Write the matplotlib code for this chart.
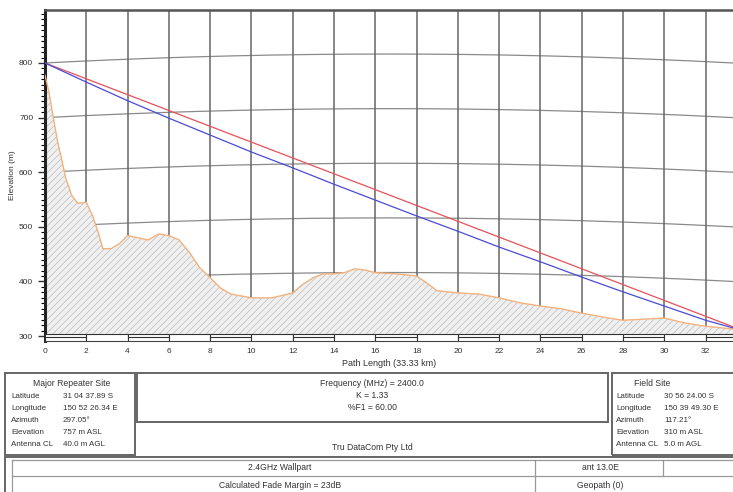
import numpy as np
import matplotlib.pyplot as plt
from matplotlib.patches import Rectangle

plt.rcParams['font.family'] = ['Liberation Sans', 'DejaVu Sans']
plt.rcParams['hatch.linewidth'] = 0.5

# path profile data (km, m)
path_km = 33.33
k_factor = 1.33
terrain_km = [0, 0.2, 0.4, 0.6, 0.8, 1.0, 1.3, 1.6, 2.0, 2.3, 2.6, 2.8, 3.2, 3.6, 4.0,
              4.5, 5.0, 5.5, 6.0, 6.5, 7.0, 7.5, 8.0, 8.5, 9.0, 10.0, 11.0, 12.0, 12.5,
              13.0, 13.5, 14.0, 14.5, 15.0, 15.5, 16.0, 17.0, 18.0, 18.5, 19.0, 20.0,
              21.0, 22.0, 23.0, 24.0, 25.0, 26.0, 27.0, 28.0, 29.0, 30.0, 31.0, 32.0, 33.33]
terrain_m = [778, 745, 700, 658, 625, 590, 557, 543, 545, 521, 487, 460, 460, 469, 484,
             480, 476, 487, 484, 476, 453, 425, 407, 388, 377, 370, 370, 379, 395,
             407, 414, 414, 416, 423, 421, 416, 414, 410, 397, 383, 379,
             377, 370, 361, 355, 350, 342, 335, 329, 331, 333, 324, 318, 313]

los_km = [0, 33.33]
los_m = [800, 317]

fresnel_km = [0, 2, 4, 6, 8, 10, 12, 14, 16, 18, 20, 22, 24, 26, 28, 30, 32, 33.33]
fresnel_m = [800, 765, 731, 699, 668, 637, 608, 578, 549, 520, 492, 463, 436, 408, 381, 355, 329, 315]

grid_levels = [300, 400, 500, 600, 700, 800, 900]

W, H = 733, 492
fig = plt.figure(figsize=(W / 100, H / 100), dpi=100)


def fx(p):
    return p / W


def fy(p):
    return 1 - p / H


ax = fig.add_axes([fx(45), fy(341), fx(733) - fx(45), fy(10) - fy(341)])
ax.set_xlim(0, path_km)
ax.set_ylim(291, 897)

# curved (earth bulge) grid
xs = np.linspace(0, path_km, 200)
bulge = xs * (path_km - xs) / (12.74 * k_factor)
for lv in grid_levels:
    ax.plot(xs, lv + bulge, color='#8a8a8a', lw=0.9, zorder=1)
for xv in range(2, 34, 2):
    ax.axvline(xv, color='#666666', lw=1.1, zorder=1)

ax.fill_between(terrain_km, terrain_m, 291, facecolor='#f0f0f0', edgecolor='#bdbdbd',
                hatch='/////', lw=0, zorder=2)
ax.plot(terrain_km, terrain_m, color='#f2b27e', lw=1.0, zorder=3)
ax.plot(los_km, los_m, color='#e8505a', lw=0.9, zorder=4)
ax.plot(fresnel_km, fresnel_m, color='#4a4ad8', lw=0.9, zorder=4)

# scale bar along the bottom
for i in range(0, 17):
    x0 = i * 2
    ax.add_patch(Rectangle((x0, 0), 2, 0.022, transform=ax.get_xaxis_transform(),
                           facecolor='white', edgecolor='#333333', lw=0.8, zorder=5))
    if i % 2 == 0:
        ax.plot([x0, x0 + 2], [0.011, 0.011], transform=ax.get_xaxis_transform(),
                color='#333333', lw=0.8, zorder=6)

ax.set_xticks(range(0, 34, 2))
ax.set_xticks(np.arange(0, 33.5, 0.5), minor=True)
ax.set_yticks(range(300, 900, 100))
ax.set_yticks(range(300, 900, 10), minor=True)
ax.tick_params(axis='x', direction='in', length=10, width=0.8, labelsize=6,
               pad=5, colors='#333333')
ax.tick_params(axis='x', which='minor', direction='in', length=9, width=0.6, colors='#444444')
ax.tick_params(axis='y', direction='out', length=5, width=1.0, labelsize=6,
               colors='#333333')
ax.tick_params(axis='y', which='minor', direction='out', length=3, width=0.8)
ax.spines['left'].set_linewidth(2.2)
ax.spines['left'].set_color('#222222')
ax.spines['top'].set_linewidth(1.8)
ax.spines['top'].set_color('#555555')
ax.spines['right'].set_visible(False)
ax.spines['bottom'].set_color('#444444')
ax.set_xlabel('Path Length (33.33 km)', fontsize=6.5, color='#333333', labelpad=3)
ax.set_ylabel('Elevation (m)', fontsize=6, color='#333333', labelpad=2)

# info boxes below the chart
txt = dict(fontsize=6.2, color='#333333')
row = dict(fontsize=5.8, color='#333333')


def box(x0, y0, x1, y1):
    fig.patches.append(Rectangle((fx(x0), fy(y1)), fx(x1) - fx(x0), fy(y0) - fy(y1),
                                 transform=fig.transFigure, facecolor='none',
                                 edgecolor='#666666', lw=1.4))


def line(x0, y0, x1, y1):
    fig.add_artist(plt.Line2D([fx(x0), fx(x1)], [fy(y0), fy(y1)], transform=fig.transFigure,
                              color='#999999', lw=0.9))


def site(xl, xv, xt, title, rows):
    fig.text(fx(xt), fy(384), title, ha='center', va='center', **txt)
    for i, (lab, val) in enumerate(rows):
        fig.text(fx(xl), fy(397 + 12 * i), lab, ha='left', va='center', **row)
        fig.text(fx(xv), fy(397 + 12 * i), val, ha='left', va='center', **row)


box(5, 373, 135, 455)
site(11, 63, 72, 'Major Repeater Site',
     [('Latitude', '31 04 37.89 S'), ('Longitude', '150 52 26.34 E'),
      ('Azimuth', '297.05°'), ('Elevation', '757 m ASL'), ('Antenna CL', '40.0 m AGL')])

box(612, 373, 740, 455)
site(616, 664, 652, 'Field Site',
     [('Latitude', '30 56 24.00 S'), ('Longitude', '150 39 49.30 E'),
      ('Azimuth', '117.21°'), ('Elevation', '310 m ASL'), ('Antenna CL', '5.0 m AGL')])

box(137, 373, 608, 422)
for i, s in enumerate(['Frequency (MHz) = 2400.0', 'K = 1.33', '%F1 = 60.00']):
    fig.text(fx(372), fy(384 + 12 * i), s, ha='center', va='center', **txt)
fig.text(fx(372), fy(447), 'Tru DataCom Pty Ltd', ha='center', va='center', **txt)

box(5, 457, 740, 500)
line(12, 460, 740, 460)
line(12, 476, 740, 476)
line(12, 460, 12, 492)
line(535, 460, 535, 492)
line(663, 460, 663, 476)
fig.text(fx(280), fy(468), '2.4GHz Wallpart', ha='center', va='center', **txt)
fig.text(fx(280), fy(485), 'Calculated Fade Margin = 23dB', ha='center', va='center', **txt)
fig.text(fx(600), fy(468), 'ant 13.0E', ha='center', va='center', **txt)
fig.text(fx(600), fy(485), 'Geopath (0)', ha='center', va='center', **txt)

fig.savefig('out.png', dpi=100)
